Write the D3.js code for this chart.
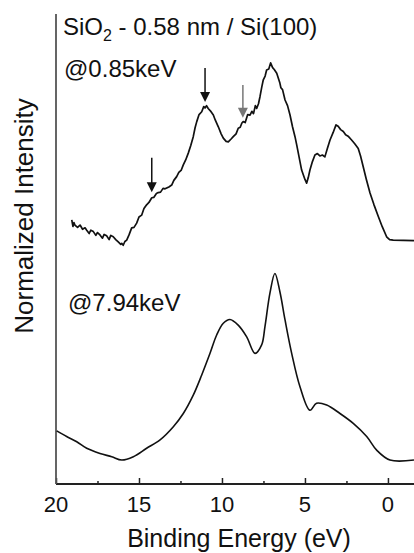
<!DOCTYPE html>
<html>
<head>
<meta charset="utf-8">
<script src="https://cdn.jsdelivr.net/npm/d3@7"></script>
<style>
  body { margin: 0; background: #fff; }
  svg { display: block; font-family: "Liberation Sans", Arial, sans-serif; }
</style>
</head>
<body>
<div id="chart"></div>
<script>
// binding energy (eV) and normalized intensity (arb. units, stacked)
const energyLow = [19.05, 18.98, 18.92, 18.86, 18.70, 18.55, 18.40, 18.25, 18.15, 18.00, 17.90, 17.75, 17.60, 17.50, 17.35, 17.20, 17.10, 16.95, 16.80, 16.70, 16.55, 16.40, 16.25, 16.10, 16.04, 15.95, 15.85, 15.74, 15.60, 15.44, 15.30, 15.14, 15.00, 14.84, 14.70, 14.54, 14.40, 14.23, 14.10, 13.95, 13.84, 13.70, 13.55, 13.43, 13.20, 13.03, 12.90, 12.73, 12.60, 12.45, 12.33, 12.18, 12.03, 11.88, 11.73, 11.62, 11.52, 11.38, 11.22, 11.10, 11.02, 10.93, 10.83, 10.70, 10.52, 10.40, 10.22, 10.05, 9.92, 9.75, 9.62, 9.45, 9.32, 9.15, 9.02, 8.90, 8.80, 8.72, 8.60, 8.45, 8.31, 8.20, 8.10, 7.99, 7.91, 7.80, 7.71, 7.60, 7.51, 7.40, 7.31, 7.18, 7.07, 6.95, 6.85, 6.70, 6.51, 6.45, 6.35, 6.20, 6.05, 5.90, 5.75, 5.60, 5.50, 5.40, 5.20, 5.00, 4.90, 4.80, 4.70, 4.55, 4.40, 4.25, 4.10, 3.95, 3.80, 3.65, 3.49, 3.30, 3.13, 3.00, 2.85, 2.69, 2.55, 2.40, 2.19, 2.00, 1.79, 1.65, 1.49, 1.30, 1.08, 0.85, 0.58, 0.35, 0.08, -0.10, -0.32, -1.57];
const intensityLow = [56.2, 54.8, 55.6, 55.1, 54.6, 55.1, 54.2, 54.5, 54.0, 53.3, 54.0, 53.7, 52.9, 53.5, 53.0, 52.3, 53.1, 52.8, 52.0, 52.9, 52.6, 52.0, 51.5, 51.0, 51.2, 50.8, 51.6, 51.9, 53.0, 54.5, 54.6, 55.5, 56.8, 57.2, 58.6, 59.4, 59.9, 60.9, 61.0, 61.8, 62.0, 62.1, 62.9, 62.8, 63.2, 63.6, 64.6, 65.4, 66.3, 66.8, 67.9, 69.0, 70.4, 72.0, 73.9, 75.8, 77.1, 78.6, 79.2, 80.3, 80.0, 80.5, 79.9, 79.4, 78.5, 77.4, 76.0, 74.5, 73.6, 72.9, 72.8, 73.4, 73.9, 74.5, 75.7, 75.9, 76.8, 77.1, 76.9, 78.6, 78.5, 79.3, 78.8, 80.5, 79.9, 80.9, 82.4, 84.5, 86.0, 86.8, 88.1, 88.3, 89.6, 88.6, 88.2, 87.4, 85.3, 84.3, 83.9, 81.7, 80.5, 78.5, 76.0, 73.9, 72.2, 70.4, 66.8, 64.8, 64.0, 65.2, 66.8, 68.6, 70.0, 70.3, 69.8, 70.0, 69.6, 71.4, 73.2, 74.8, 76.4, 76.1, 75.4, 75.0, 74.3, 74.0, 73.2, 72.4, 71.4, 69.8, 67.5, 64.8, 61.9, 59.5, 56.9, 54.8, 52.6, 52.0, 51.9, 51.8];

const energyHigh = [19.96, 19.36, 18.75, 18.15, 17.35, 16.64, 16.04, 15.34, 14.54, 13.73, 12.93, 12.33, 11.73, 11.22, 10.72, 10.32, 9.92, 9.52, 9.02, 8.51, 8.01, 7.61, 7.41, 7.11, 6.81, 6.51, 6.20, 5.80, 5.30, 4.70, 4.30, 3.69, 2.89, 2.09, 1.28, 0.68, -0.12, -1.57];
const intensityHigh = [11.3, 10.1, 9.0, 7.6, 6.5, 5.8, 5.1, 5.8, 7.6, 9.4, 12.2, 15.0, 18.9, 23.2, 27.8, 31.7, 34.2, 35.0, 33.8, 31.3, 27.8, 29.6, 33.5, 40.6, 44.8, 40.9, 34.9, 27.8, 20.7, 15.7, 17.2, 16.8, 15.0, 12.9, 10.1, 7.2, 5.1, 5.1];

// arrows marking features on the 0.85 keV spectrum
const arrowEnergy = [14.23, 11.02, 8.74];
const arrowTop = [69.4, 88.5, 84.9];
const arrowTip = [62.1, 81.3, 77.9];
const arrowColor = ["#111", "#111", "#777"];

const xTicks = [20, 15, 10, 5, 0];
const xMinorTicks = [17.5, 12.5, 7.5, 2.5];

const width = 414;
const height = 553;

const svg = d3.select("#chart").append("svg")
    .attr("width", width)
    .attr("height", height);

const x = d3.scaleLinear()
    .domain([20, -1.57])
    .range([56, 414]);

const y = d3.scaleLinear()
    .domain([0, 100])
    .range([484, 14]);

// x axis, ticks pointing inward
const gx = svg.append("g")
    .attr("transform", `translate(0, ${y(0)})`)
    .call(d3.axisTop(x).tickValues(xTicks).tickSize(6).tickFormat(""));
gx.select(".domain").remove();
gx.selectAll(".tick line").attr("stroke", "#222").attr("stroke-width", 1.5);

svg.append("g")
    .attr("transform", `translate(0, ${y(0)})`)
    .call(d3.axisTop(x).tickValues(xMinorTicks).tickSize(3).tickFormat(""))
    .call(g => g.select(".domain").remove())
    .selectAll(".tick line").attr("stroke", "#222").attr("stroke-width", 1.5);

svg.append("line")
    .attr("x1", x(20)).attr("x2", width)
    .attr("y1", y(0)).attr("y2", y(0))
    .attr("stroke", "#222")
    .attr("stroke-width", 1.8);

svg.append("line")
    .attr("x1", x(20)).attr("x2", x(20))
    .attr("y1", y(0)).attr("y2", y(100))
    .attr("stroke", "#555")
    .attr("stroke-width", 1.8);

svg.selectAll(".xlabel")
    .data(xTicks)
    .join("text")
    .attr("class", "xlabel")
    .attr("x", d => x(d))
    .attr("y", 512)
    .attr("text-anchor", "middle")
    .attr("font-size", 22)
    .attr("fill", "#111")
    .text(d => d);

svg.append("text")
    .attr("x", 239)
    .attr("y", 547)
    .attr("text-anchor", "middle")
    .attr("font-size", 25)
    .attr("fill", "#111")
    .text("Binding Energy (eV)");

svg.append("text")
    .attr("transform", "translate(33, 216) rotate(-90)")
    .attr("text-anchor", "middle")
    .attr("font-size", 26)
    .attr("fill", "#111")
    .text("Normalized Intensity");

// spectra
const line = d3.line()
    .x(d => x(d[0]))
    .y(d => y(d[1]));

svg.append("path")
    .datum(energyLow.map((e, i) => [e, intensityLow[i]]))
    .attr("fill", "none")
    .attr("stroke", "#111")
    .attr("stroke-width", 1.7)
    .attr("stroke-linejoin", "round")
    .attr("d", line);

svg.append("path")
    .datum(energyHigh.map((e, i) => [e, intensityHigh[i]]))
    .attr("fill", "none")
    .attr("stroke", "#111")
    .attr("stroke-width", 1.6)
    .attr("stroke-linejoin", "round")
    .attr("d", line.curve(d3.curveCatmullRom.alpha(0.5)));

// arrows
arrowEnergy.forEach((e, i) => {
  const ax = x(e);
  const top = y(arrowTop[i]);
  const tip = y(arrowTip[i]);
  svg.append("line")
      .attr("x1", ax).attr("x2", ax)
      .attr("y1", top).attr("y2", tip - 8)
      .attr("stroke", arrowColor[i])
      .attr("stroke-width", 1.5);
  svg.append("path")
      .attr("d", `M${ax - 5},${tip - 10} L${ax + 5},${tip - 10} L${ax},${tip} Z`)
      .attr("fill", arrowColor[i]);
});

// annotations
const title = svg.append("text")
    .attr("x", 63)
    .attr("y", 35)
    .attr("font-size", 24)
    .attr("fill", "#111");
title.append("tspan").text("SiO");
title.append("tspan").attr("font-size", 16).attr("dy", 6).text("2");
title.append("tspan").attr("dy", -6).text(" - 0.58 nm / Si(100)");

svg.append("text")
    .attr("x", 64)
    .attr("y", 77)
    .attr("font-size", 24)
    .attr("fill", "#111")
    .text("@0.85keV");

svg.append("text")
    .attr("x", 68)
    .attr("y", 311)
    .attr("font-size", 24)
    .attr("fill", "#111")
    .text("@7.94keV");
</script>
</body>
</html>
